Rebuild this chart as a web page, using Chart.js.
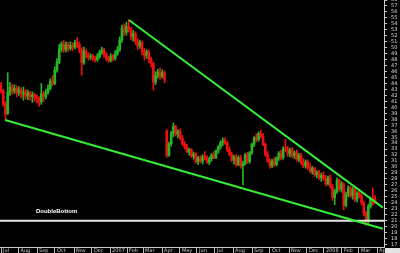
<!DOCTYPE html>
<html>
<head>
<meta charset="utf-8">
<script src="https://cdn.jsdelivr.net/npm/chart.js@4.4.1/dist/chart.umd.min.js"></script>
<style>
  html, body { margin: 0; padding: 0; background: #000; }
  #wrap { width: 400px; height: 253px; position: relative; }
</style>
</head>
<body>
<div id="wrap"><canvas id="chart"></canvas></div>
<script>
// candles (one candle every ~2.2 px)
const opens = [
  43.6,42.8,40.6,39.0,42.6,43.4,42.7,43.2,42.5,42.9,
  42.2,42.6,41.9,42.4,41.8,42.1,41.6,41.5,40.9,42.3,
  41.8,42.5,43.2,44.4,44.0,46.2,47.6,49.8,50.6,49.7,
  50.5,49.9,50.4,50.1,50.9,50.6,49.6,47.5,49.4,48.8,
  48.4,48.6,48.2,48.0,48.5,49.2,49.6,48.9,48.3,47.9,
  48.6,48.2,49.0,49.6,51.3,53.2,52.6,53.6,53.0,51.8,
  52.4,51.1,50.3,50.9,49.4,48.7,49.3,48.1,47.4,44.2,
  45.3,45.9,45.2,45.8,
  36.0,32.0,33.9,35.6,36.8,35.5,
  36.0,34.8,33.9,33.3,32.6,32.9,31.8,32.2,30.9,31.5,
  31.0,31.7,31.4,30.8,31.4,32.0,31.6,32.7,33.4,34.1,
  34.4,34.0,32.9,32.1,31.2,31.7,30.4,31.6,30.2,30.6,
  32.0,30.9,32.4,33.8,34.9,34.6,35.6,35.2,33.8,32.1,
  31.0,30.2,31.0,30.4,31.5,32.3,31.6,33.1,33.0,32.2,
  32.9,31.9,32.4,31.3,32.0,30.7,30.2,30.9,29.9,29.3,
  29.8,28.7,29.1,28.2,28.6,28.0,27.2,28.2,26.8,24.9,
  25.9,27.8,26.3,27.2,23.6,25.4,26.5,25.2,26.2,24.6,
  25.6,25.1,24.0,22.2,20.9,23.4,24.6,24.8
]
const highs = [
  44.2,43.0,41.0,45.8,44.2,43.9,43.8,43.6,43.5,43.3,
  43.4,43.0,42.9,42.7,42.6,42.4,42.1,41.8,44.0,42.7,
  43.0,43.8,44.8,45.3,46.8,48.2,50.6,51.0,51.2,51.0,
  50.9,51.0,50.8,51.3,51.7,51.0,50.0,50.1,49.8,49.2,
  49.0,48.9,48.6,49.0,49.6,50.1,49.9,49.2,48.6,49.0,
  48.9,49.5,50.2,51.8,53.8,54.0,54.3,54.7,53.4,52.9,
  52.7,51.6,51.3,51.1,49.9,49.7,49.6,48.4,47.6,46.0,
  46.4,46.6,46.3,46.1,
  36.3,34.2,36.0,37.4,37.0,36.3,
  36.4,35.3,34.3,33.8,33.2,33.1,32.5,32.4,31.8,31.9,
  32.1,32.6,31.9,31.7,32.3,32.6,32.9,33.6,34.4,34.9,
  34.9,34.3,33.4,32.5,32.0,32.1,31.9,32.0,31.0,32.3,
  32.5,32.6,34.0,35.1,35.6,35.9,36.2,35.6,34.0,32.6,
  31.4,31.3,31.6,31.7,32.6,32.8,33.4,34.6,33.5,33.2,
  33.3,32.7,32.9,32.3,32.3,31.4,31.2,31.2,30.6,30.1,
  30.0,29.4,29.5,29.0,29.2,28.6,28.5,28.7,27.1,26.3,
  28.2,28.0,27.6,27.4,25.8,26.9,26.8,26.6,26.7,25.9,
  26.3,25.5,24.3,22.6,23.8,25.0,26.5,25.2
]
const lows = [
  42.4,40.2,37.9,38.8,42.0,42.2,42.3,41.8,42.0,41.6,
  41.2,41.4,41.3,41.2,40.8,41.0,40.7,40.2,40.5,41.0,
  41.4,42.2,42.9,43.6,43.8,45.9,47.3,49.3,49.2,49.3,
  49.4,49.6,49.5,49.8,50.0,49.1,45.4,47.2,48.3,47.9,
  48.0,47.8,47.6,47.7,48.2,48.9,48.4,47.8,47.5,47.6,
  47.8,47.9,48.7,49.4,50.9,52.0,52.1,52.6,51.3,51.1,
  50.6,49.7,49.9,48.8,47.9,48.2,47.5,46.8,42.9,43.8,
  44.9,44.7,44.9,44.1,
  31.6,31.8,33.5,35.1,35.2,34.9,
  34.6,33.6,33.0,32.4,32.0,31.6,31.3,30.6,30.4,30.7,
  30.5,31.2,30.6,30.4,31.0,31.4,31.4,32.3,33.0,33.6,
  33.8,32.6,31.9,30.9,30.5,30.1,30.2,29.8,27.0,30.3,
  30.6,30.6,32.1,33.4,34.2,34.3,34.9,33.6,31.8,30.8,
  29.8,29.9,30.1,30.2,31.1,31.2,31.3,32.6,31.8,31.7,
  31.6,31.4,31.0,30.9,30.4,29.9,29.8,29.6,29.0,28.8,
  28.4,28.2,27.9,27.6,27.8,26.8,27.0,26.5,24.4,23.7,
  25.6,26.0,25.8,22.8,23.3,25.0,24.9,24.6,24.2,24.1,
  24.8,23.6,21.8,20.2,20.6,23.1,23.6,23.9
]
const closes = [
  42.8,40.6,38.9,42.6,43.4,42.7,43.2,42.5,42.9,42.2,
  42.6,41.9,42.4,41.8,42.1,41.6,41.5,40.9,42.3,41.8,
  42.5,43.2,44.4,44.0,46.2,47.6,49.8,50.6,49.7,50.5,
  49.9,50.4,50.1,50.9,50.6,49.6,47.5,49.4,48.8,48.4,
  48.6,48.2,48.0,48.5,49.2,49.6,48.9,48.3,47.9,48.6,
  48.2,49.0,49.6,51.3,53.2,52.6,53.6,53.0,51.8,52.4,
  51.1,50.3,50.9,49.4,48.7,49.3,48.1,47.4,44.2,45.3,
  45.9,45.2,45.8,44.6,
  31.9,33.9,35.6,36.8,35.5,36.0,
  34.8,33.9,33.3,32.6,32.9,31.8,32.2,30.9,31.5,31.0,
  31.7,31.4,30.8,31.4,32.0,31.6,32.7,33.4,34.1,34.4,
  34.0,32.9,32.1,31.2,31.7,30.4,31.6,30.2,30.6,32.0,
  30.9,32.4,33.8,34.9,34.6,35.6,35.2,33.8,32.1,31.0,
  30.2,31.0,30.4,31.5,32.3,31.6,33.1,33.0,32.2,32.9,
  31.9,32.4,31.3,32.0,30.7,30.2,30.9,29.9,29.3,29.8,
  28.7,29.1,28.2,28.6,28.0,27.2,28.2,26.8,24.9,25.9,
  27.8,26.3,27.2,23.6,25.4,26.5,25.2,26.2,24.6,25.6,
  25.1,24.0,22.2,20.9,23.4,24.6,24.0,24.2
]

// month starts, in candle units
const monthPos = [0,7.8,16.1,24.1,32.6,40.6,48.7,56.3,63.4,71.9,79.9,87.5,95.5,103.6,112.1,120.1,128.6,136.6,144.2,152.2,159.8,167.9]
const monthLabels = ['Jul','Aug','Sep','Oct','Nov','Dec','2007','Feb','Mar','Apr','May','Jun','Jul','Aug','Sep','Oct','Nov','Dec','2008','Feb','Mar','Apr']

// trend lines (candle index, price)
const upperLine = [{x:57.1, y:54.65}, {x:170.5, y:23.2}]
const lowerLine = [{x:1.8, y:37.9}, {x:170.5, y:19.65}]
const supportLevel = 21.0
const noteText = 'DoubleBottom'
const notePos = {x:15.6, y:22.5}

const xMin = -0.45, xMax = 171
const yMin = 16.6, yMax = 58

const verde = '#26b626'
const rojo = '#ee1111'

const colores = closes.map((c, i) => c >= opens[i] ? verde : rojo)
const cuerpos = closes.map((c, i) => ({x: i, y: [opens[i], c]}))
const mechas = closes.map((c, i) => ({x: i, y: [lows[i], highs[i]]}))

const fondo = {
    id: 'fondo',
    beforeDraw(chart){
        const c = chart.ctx
        c.save()
        c.fillStyle = '#000'
        c.fillRect(0, 0, chart.width, chart.height)
        c.restore()
    },
    afterDraw(chart){
        const c = chart.ctx
        const a = chart.chartArea
        c.save()
        c.fillStyle = '#e4e4e4'
        c.fillRect(a.right + 1, a.bottom + 1, chart.width - a.right, chart.height - a.bottom)
        c.fillStyle = '#ffffff'
        c.font = 'bold 6px "Liberation Sans"'
        c.textBaseline = 'middle'
        c.fillText(noteText, chart.scales.x.getPixelForValue(notePos.x), chart.scales.y.getPixelForValue(notePos.y))
        c.restore()
    }
}

const ctx = document.getElementById('chart')
new Chart(ctx, {
    type: 'bar',
    data: {
        datasets: [{
            label: 'mechas',
            data: mechas,
            backgroundColor: colores,
            barThickness: 1,
            grouped: false,
            order: 3
        },{
            label: 'cuerpos',
            data: cuerpos,
            backgroundColor: colores,
            barThickness: 2,
            minBarLength: 1,
            grouped: false,
            order: 2
        },{
            type: 'line',
            label: 'soporte',
            data: [{x: xMin, y: supportLevel}, {x: xMax, y: supportLevel}],
            borderColor: '#e6e6e6',
            borderWidth: 2,
            pointRadius: 0,
            order: 1
        },{
            type: 'line',
            label: 'superior',
            data: upperLine,
            borderColor: '#33ee33',
            borderWidth: 2,
            pointRadius: 0,
            order: 0
        },{
            type: 'line',
            label: 'inferior',
            data: lowerLine,
            borderColor: '#33ee33',
            borderWidth: 2,
            pointRadius: 0,
            order: 0
        }]
    },
    options: {
        responsive: true,
        maintainAspectRatio: false,
        animation: false,
        layout: { padding: 0 },
        plugins: { legend: { display: false }, tooltip: { enabled: false } },
        scales: {
            x: {
                type: 'linear',
                offset: false,
                min: xMin,
                max: xMax,
                afterBuildTicks: scale => { scale.ticks = monthPos.map(v => ({value: v})) },
                afterFit: scale => { scale.height = 6; scale.paddingLeft = 0; scale.paddingRight = 0 },
                grid: { drawOnChartArea: false, offset: false, tickLength: 6, tickColor: '#bbbbbb' },
                border: { color: '#cccccc' },
                ticks: {
                    autoSkip: false,
                    maxRotation: 0,
                    align: 'start',
                    labelOffset: 2,
                    padding: -5,
                    color: '#cccccc',
                    font: { family: 'DejaVu Sans', size: 5 },
                    callback: (v, i) => monthLabels[i]
                }
            },
            y: {
                position: 'right',
                min: yMin,
                max: yMax,
                afterFit: scale => { scale.width = 16; scale.paddingTop = 0; scale.paddingBottom = 0 },
                grid: { drawOnChartArea: false, tickLength: 3, tickColor: '#cccccc' },
                border: { color: '#cccccc' },
                ticks: {
                    stepSize: 1,
                    includeBounds: false,
                    autoSkip: false,
                    padding: 4,
                    color: '#dddddd',
                    font: { family: 'DejaVu Sans', size: 5 }
                }
            }
        }
    },
    plugins: [fondo]
})
</script>
</body>
</html>
